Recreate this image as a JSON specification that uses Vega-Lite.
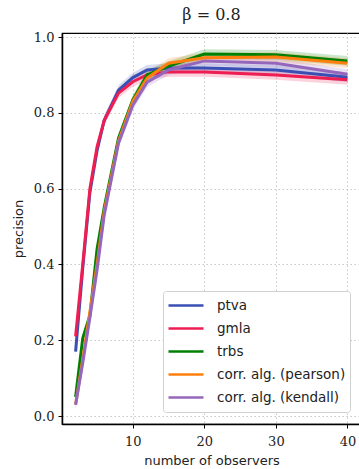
{
  "$schema": "https://vega.github.io/schema/vega-lite/v6.json",
  "autosize": {"type": "none"},
  "padding": {"left": 62, "top": 33, "right": 0, "bottom": 45},
  "width": 299,
  "height": 391,
  "background": "white",
  "title": {"text": "β = 0.8", "font": "DejaVu Serif", "fontSize": 16, "fontWeight": "normal", "color": "#222", "offset": 8, "anchor": "middle"},
  "config": {
    "view": {"stroke": "black", "strokeWidth": 1.2},
    "axis": {
      "domainColor": "black", "domainWidth": 1.5,
      "tickColor": "black", "tickSize": 4, "tickWidth": 1,
      "gridColor": "#c8c8c8", "gridDash": [1.5, 2.5], "gridWidth": 1,
      "labelFont": "DejaVu Serif", "labelFontSize": 13, "labelColor": "#222",
      "titleFont": "DejaVu Sans", "titleFontSize": 13, "titleFontWeight": "normal", "titleColor": "#222"
    },
    "legend": {
      "orient": "none", "legendX": 101, "legendY": 258,
      "symbolType": "stroke", "symbolSize": 1225, "symbolStrokeWidth": 2.5, "symbolOpacity": 1,
      "labelFont": "DejaVu Sans", "labelFontSize": 13.5, "labelColor": "#222",
      "labelOffset": 12, "padding": 4, "rowPadding": 2, "clipHeight": 21,
      "strokeColor": "#d0d0d0", "fillColor": "white", "cornerRadius": 3
    }
  },
  "data": {"values": [
    {"x":2,"alg":"ptva","p":0.17,"lo":0.157,"hi":0.183},
    {"x":3,"alg":"ptva","p":0.39,"lo":0.377,"hi":0.403},
    {"x":4,"alg":"ptva","p":0.59,"lo":0.577,"hi":0.603},
    {"x":5,"alg":"ptva","p":0.70,"lo":0.687,"hi":0.713},
    {"x":6,"alg":"ptva","p":0.78,"lo":0.767,"hi":0.793},
    {"x":8,"alg":"ptva","p":0.86,"lo":0.847,"hi":0.873},
    {"x":10,"alg":"ptva","p":0.893,"lo":0.88,"hi":0.906},
    {"x":12,"alg":"ptva","p":0.913,"lo":0.9,"hi":0.926},
    {"x":15,"alg":"ptva","p":0.918,"lo":0.905,"hi":0.931},
    {"x":20,"alg":"ptva","p":0.918,"lo":0.905,"hi":0.931},
    {"x":30,"alg":"ptva","p":0.913,"lo":0.9,"hi":0.926},
    {"x":40,"alg":"ptva","p":0.894,"lo":0.881,"hi":0.907},
    {"x":2,"alg":"gmla","p":0.21,"lo":0.197,"hi":0.223},
    {"x":3,"alg":"gmla","p":0.40,"lo":0.387,"hi":0.413},
    {"x":4,"alg":"gmla","p":0.60,"lo":0.587,"hi":0.613},
    {"x":5,"alg":"gmla","p":0.71,"lo":0.697,"hi":0.723},
    {"x":6,"alg":"gmla","p":0.78,"lo":0.767,"hi":0.793},
    {"x":8,"alg":"gmla","p":0.852,"lo":0.839,"hi":0.865},
    {"x":10,"alg":"gmla","p":0.882,"lo":0.869,"hi":0.895},
    {"x":12,"alg":"gmla","p":0.90,"lo":0.887,"hi":0.913},
    {"x":15,"alg":"gmla","p":0.908,"lo":0.895,"hi":0.921},
    {"x":20,"alg":"gmla","p":0.908,"lo":0.895,"hi":0.921},
    {"x":30,"alg":"gmla","p":0.90,"lo":0.887,"hi":0.913},
    {"x":40,"alg":"gmla","p":0.887,"lo":0.874,"hi":0.9},
    {"x":2,"alg":"trbs","p":0.05,"lo":0.037,"hi":0.063},
    {"x":3,"alg":"trbs","p":0.205,"lo":0.192,"hi":0.218},
    {"x":4,"alg":"trbs","p":0.265,"lo":0.252,"hi":0.278},
    {"x":5,"alg":"trbs","p":0.44,"lo":0.427,"hi":0.453},
    {"x":6,"alg":"trbs","p":0.55,"lo":0.537,"hi":0.563},
    {"x":8,"alg":"trbs","p":0.733,"lo":0.72,"hi":0.746},
    {"x":10,"alg":"trbs","p":0.834,"lo":0.821,"hi":0.847},
    {"x":12,"alg":"trbs","p":0.90,"lo":0.887,"hi":0.913},
    {"x":15,"alg":"trbs","p":0.923,"lo":0.91,"hi":0.936},
    {"x":20,"alg":"trbs","p":0.955,"lo":0.942,"hi":0.968},
    {"x":30,"alg":"trbs","p":0.953,"lo":0.94,"hi":0.966},
    {"x":40,"alg":"trbs","p":0.937,"lo":0.924,"hi":0.95},
    {"x":2,"alg":"corr. alg. (pearson)","p":0.03,"lo":0.017,"hi":0.043},
    {"x":3,"alg":"corr. alg. (pearson)","p":0.15,"lo":0.137,"hi":0.163},
    {"x":4,"alg":"corr. alg. (pearson)","p":0.275,"lo":0.262,"hi":0.288},
    {"x":5,"alg":"corr. alg. (pearson)","p":0.40,"lo":0.387,"hi":0.413},
    {"x":6,"alg":"corr. alg. (pearson)","p":0.54,"lo":0.527,"hi":0.553},
    {"x":8,"alg":"corr. alg. (pearson)","p":0.725,"lo":0.712,"hi":0.738},
    {"x":10,"alg":"corr. alg. (pearson)","p":0.83,"lo":0.817,"hi":0.843},
    {"x":12,"alg":"corr. alg. (pearson)","p":0.892,"lo":0.879,"hi":0.905},
    {"x":15,"alg":"corr. alg. (pearson)","p":0.931,"lo":0.918,"hi":0.944},
    {"x":20,"alg":"corr. alg. (pearson)","p":0.945,"lo":0.932,"hi":0.958},
    {"x":30,"alg":"corr. alg. (pearson)","p":0.947,"lo":0.934,"hi":0.96},
    {"x":40,"alg":"corr. alg. (pearson)","p":0.931,"lo":0.918,"hi":0.944},
    {"x":2,"alg":"corr. alg. (kendall)","p":0.03,"lo":0.017,"hi":0.043},
    {"x":3,"alg":"corr. alg. (kendall)","p":0.14,"lo":0.127,"hi":0.153},
    {"x":4,"alg":"corr. alg. (kendall)","p":0.26,"lo":0.247,"hi":0.273},
    {"x":5,"alg":"corr. alg. (kendall)","p":0.385,"lo":0.372,"hi":0.398},
    {"x":6,"alg":"corr. alg. (kendall)","p":0.53,"lo":0.517,"hi":0.543},
    {"x":8,"alg":"corr. alg. (kendall)","p":0.72,"lo":0.707,"hi":0.733},
    {"x":10,"alg":"corr. alg. (kendall)","p":0.82,"lo":0.807,"hi":0.833},
    {"x":12,"alg":"corr. alg. (kendall)","p":0.881,"lo":0.868,"hi":0.894},
    {"x":15,"alg":"corr. alg. (kendall)","p":0.913,"lo":0.9,"hi":0.926},
    {"x":20,"alg":"corr. alg. (kendall)","p":0.937,"lo":0.924,"hi":0.95},
    {"x":30,"alg":"corr. alg. (kendall)","p":0.931,"lo":0.918,"hi":0.944},
    {"x":40,"alg":"corr. alg. (kendall)","p":0.902,"lo":0.889,"hi":0.915}
  ]},
  "encoding": {
    "x": {"field": "x", "type": "quantitative",
      "scale": {"domain": [0.1, 41.9], "nice": false, "zero": false},
      "axis": {"values": [10, 20, 30, 40], "title": "number of observers", "titlePadding": 6, "labelPadding": 7}},
    "y": {"field": "p", "type": "quantitative",
      "scale": {"domain": [-0.0211, 1.0106], "nice": false, "zero": false},
      "axis": {"values": [0, 0.2, 0.4, 0.6, 0.8, 1.0], "format": ".1f", "title": "precision", "titlePadding": 8, "labelPadding": 4}},
    "color": {"field": "alg", "type": "nominal", "title": null,
      "scale": {"domain": ["ptva", "gmla", "trbs", "corr. alg. (pearson)", "corr. alg. (kendall)"],
                "range": ["#3a4fb4", "#ee1d52", "#008000", "#ff7f0e", "#9467bd"]}}
  },
  "layer": [
    {
      "mark": {"type": "area", "opacity": 0.2},
      "encoding": {
        "y": {"field": "lo", "type": "quantitative"},
        "y2": {"field": "hi"}
      }
    },
    {
      "mark": {"type": "line", "strokeWidth": 3},
      "encoding": {}
    }
  ]
}
